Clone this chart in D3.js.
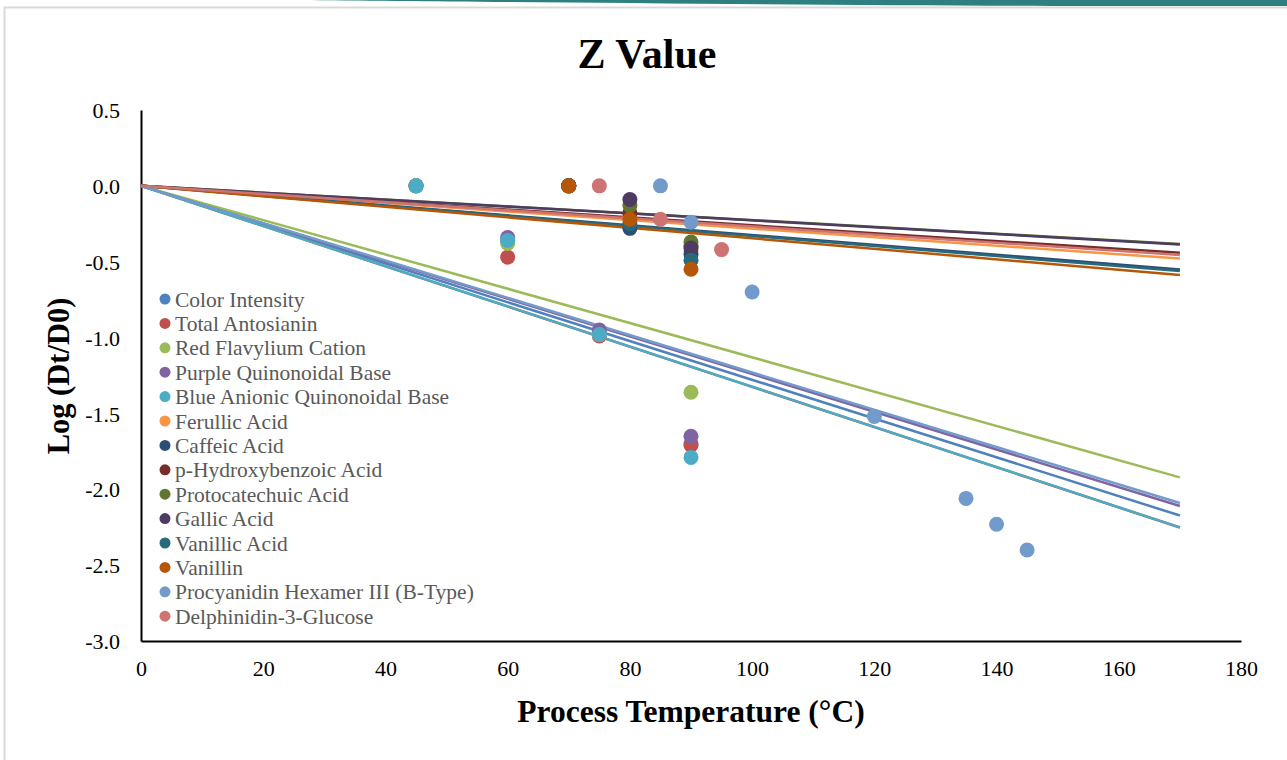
<!DOCTYPE html>
<html lang="en">
	<head>
		<meta charset="utf-8">
		<title>Z Value</title>
		<script type="text/javascript" src="https://cdn.jsdelivr.net/npm/d3@7"></script>
		<style type="text/css">
			body { margin: 0; background: #fff; }
			svg text { font-family: "Liberation Serif", "Times New Roman", serif; }
		</style>
	</head>
	<body>
		<script type="text/javascript">
			/** Series names and colours **/
			var seriesNames = ["Color Intensity", "Total Antosianin", "Red Flavylium Cation",
				"Purple Quinonoidal Base", "Blue Anionic Quinonoidal Base", "Ferullic Acid",
				"Caffeic Acid", "p-Hydroxybenzoic Acid", "Protocatechuic Acid", "Gallic Acid",
				"Vanillic Acid", "Vanillin", "Procyanidin Hexamer III (B-Type)", "Delphinidin-3-Glucose"];
			var seriesColors = ["#4F81BD", "#C0504D", "#9BBB59", "#8064A2", "#4BACC6", "#F79646",
				"#2C4D75", "#772C2A", "#5F7530", "#4D3B62", "#276A7C", "#B65708", "#729ACA", "#CD7371"];

			/** Temperatures (x) and log values (y) per series **/
			var temps = [
				[45, 60, 75, 90],
				[45, 60, 75, 90],
				[45, 60, 75, 90],
				[45, 60, 75, 90],
				[45, 60, 75, 90],
				[70, 80, 90],
				[70, 80, 90],
				[70, 80, 90],
				[70, 80, 90],
				[70, 80, 90],
				[70, 80, 90],
				[70, 80, 90],
				[85, 90, 100, 120, 135, 140, 145],
				[75, 85, 95]
			];
			var logValues = [
				[0, -0.36, -0.97, -1.70],
				[0, -0.47, -0.99, -1.71],
				[0, -0.38, -0.98, -1.36],
				[0, -0.34, -0.95, -1.65],
				[0, -0.36, -0.98, -1.79],
				[0, -0.20, -0.43],
				[0, -0.28, -0.45],
				[0, -0.18, -0.40],
				[0, -0.13, -0.37],
				[0, -0.09, -0.41],
				[0, -0.25, -0.49],
				[0, -0.22, -0.55],
				[0, -0.24, -0.70, -1.52, -2.06, -2.23, -2.40],
				[0, -0.22, -0.42]
			];

			var xTicks = [0, 20, 40, 60, 80, 100, 120, 140, 160, 180];
			var yTicks = [0.5, 0.0, -0.5, -1.0, -1.5, -2.0, -2.5, -3.0];
			var trendEnd = 170;

			var width = 1287;
			var height = 760;

			var svg = d3.select("body")
						.append("svg")
						.attr("width", width)
						.attr("height", height);

			/** Slide frame + teal bar at the top **/
			svg.append("path")
				.attr("d", "M300,0 L1287,0 L1287,6 L1150,6 C900,6 500,2 300,0 Z")
				.attr("fill", "#2E8080");
			svg.append("rect")
				.attr("x", 4.5).attr("y", 7.5)
				.attr("width", width + 10).attr("height", height)
				.attr("fill", "none")
				.attr("stroke", "#D9D9D9")
				.attr("stroke-width", 2);

			var x = d3.scaleLinear().domain([0, 180]).range([141, 1241]);
			var y = d3.scaleLinear().domain([-3, 0.5]).range([641, 110]);

			// plain hyphen like the original, not the unicode minus
			var fmtY = function (d) { return d3.format(".1f")(d).replace("\u2212", "-"); };

			/** Axes **/
			var xAxis = svg.append("g")
				.attr("transform", "translate(0," + y(-3) + ")")
				.call(d3.axisBottom(x).tickValues(xTicks).tickSize(0).tickPadding(19).tickFormat(d3.format("d")));
			var yAxis = svg.append("g")
				.attr("transform", "translate(" + x(0) + ",0)")
				.call(d3.axisLeft(y).tickValues(yTicks).tickSize(0).tickPadding(21).tickFormat(fmtY));
			[xAxis, yAxis].forEach(function (g) {
				g.attr("font-family", null).attr("font-size", null);
				g.select(".domain").attr("stroke", "#000").attr("stroke-width", 2);
				g.selectAll("text")
					.style("font-family", "'Liberation Serif', serif")
					.style("font-size", "22px")
					.attr("fill", "#000");
			});
			yAxis.selectAll("text").attr("dy", "0.35em");

			/** Trend lines through the origin (least squares) **/
			var slopes = temps.map(function (xs, i) {
				var sxy = d3.sum(xs, function (t, j) { return t * logValues[i][j]; });
				var sxx = d3.sum(xs, function (t) { return t * t; });
				return sxy / sxx;
			});
			svg.append("g").selectAll("line")
				.data(slopes)
				.enter()
				.append("line")
				.attr("x1", x(0))
				.attr("y1", y(0))
				.attr("x2", x(trendEnd))
				.attr("y2", function (s) { return y(s * trendEnd); })
				.attr("stroke", function (s, i) { return seriesColors[i]; })
				.attr("stroke-width", 2.5);

			/** Points **/
			seriesNames.forEach(function (name, i) {
				svg.append("g").selectAll("circle")
					.data(temps[i])
					.enter()
					.append("circle")
					.attr("cx", function (t) { return x(t); })
					.attr("cy", function (t, j) { return y(logValues[i][j]); })
					.attr("r", 7.5)
					.attr("fill", seriesColors[i]);
			});

			/** Legend **/
			var legend = svg.append("g").selectAll("g")
				.data(seriesNames)
				.enter()
				.append("g")
				.attr("transform", function (d, i) { return "translate(165," + (299 + i * 24.4) + ")"; });
			legend.append("circle")
				.attr("r", 5.5)
				.attr("fill", function (d, i) { return seriesColors[i]; });
			legend.append("text")
				.attr("x", 10)
				.attr("dy", "0.35em")
				.style("font-size", "21.5px")
				.attr("fill", "#595959")
				.text(function (d) { return d; });

			/** Titles **/
			svg.append("text")
				.attr("x", 647).attr("y", 68)
				.attr("text-anchor", "middle")
				.style("font-size", "42px")
				.attr("font-weight", "bold")
				.text("Z Value");
			svg.append("text")
				.attr("x", 691).attr("y", 722)
				.attr("text-anchor", "middle")
				.style("font-size", "31.5px")
				.attr("font-weight", "bold")
				.text("Process Temperature (°C)");
			svg.append("text")
				.attr("transform", "translate(69,376) rotate(-90)")
				.attr("text-anchor", "middle")
				.style("font-size", "30.5px")
				.attr("font-weight", "bold")
				.text("Log (Dt/D0)");
		</script>
	</body>
</html>
